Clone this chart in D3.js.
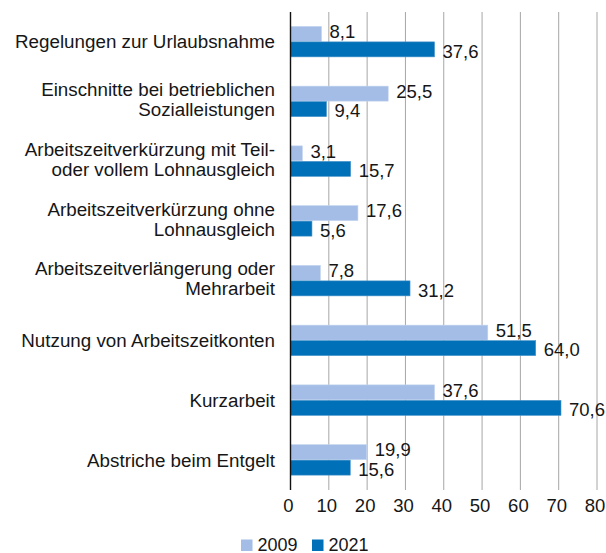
<!DOCTYPE html>
<html>
<head>
<meta charset="utf-8">
<script src="https://cdn.jsdelivr.net/npm/d3@7"></script>
<style>
  html, body { margin: 0; padding: 0; background: #ffffff; }
  svg { display: block; font-family: "Liberation Sans", Arial, Helvetica, sans-serif; }
</style>
</head>
<body>
<svg id="chart" width="606" height="553"></svg>
<script>
const categories = [
  "Regelungen zur Urlaubsnahme",
  "Einschnitte bei betrieblichen\nSozialleistungen",
  "Arbeitszeitverkürzung mit Teil-\noder vollem Lohnausgleich",
  "Arbeitszeitverkürzung ohne\nLohnausgleich",
  "Arbeitszeitverlängerung oder\nMehrarbeit",
  "Nutzung von Arbeitszeitkonten",
  "Kurzarbeit",
  "Abstriche beim Entgelt"
];
const series = ["2009", "2021"];
const values2009 = [8.1, 25.5, 3.1, 17.6, 7.8, 51.5, 37.6, 19.9];
const values2021 = [37.6, 9.4, 15.7, 5.6, 31.2, 64.0, 70.6, 15.6];
const tickValues = [0, 10, 20, 30, 40, 50, 60, 70, 80];

const colors = { "2009": "#a3bde6", "2021": "#0070b8" };
const fmt = v => d3.format(".1f")(v).replace(".", ",");

const svg = d3.select("#chart");
const plotTop = 12, plotBottom = 490;
const x = d3.scaleLinear().domain([0, 80]).range([290.5, 597]);
const y = d3.scaleBand().domain(categories).range([plotTop, plotBottom]).padding(0);
const barH = 15.5;
const textColor = "#161616";

// gridlines
svg.append("g").selectAll("line").data(tickValues.filter(t => t > 0)).join("line")
  .attr("x1", d => x(d)).attr("x2", d => x(d))
  .attr("y1", plotTop).attr("y2", plotBottom)
  .attr("stroke", "#a6a6a6").attr("stroke-width", 1);

// bars
const rows = categories.map((c, i) => ({ cat: c, v: [values2009[i], values2021[i]] }));
const g = svg.append("g");
rows.forEach(r => {
  const cy = y(r.cat) + y.bandwidth() / 2 - 0.5;
  series.forEach((s, j) => {
    const y0 = cy - barH + j * barH;
    g.append("rect")
      .attr("x", x(0)).attr("y", y0 + 0.5)
      .attr("width", x(r.v[j]) - x(0)).attr("height", barH - 0.5)
      .attr("fill", colors[s])
      .attr("stroke", j === 0 ? "#c4d5ef" : "#4a95cc").attr("stroke-width", 0.6);
    g.append("text")
      .attr("x", x(r.v[j]) + 8)
      .attr("y", y0 + barH / 2 + (j === 0 ? 4.5 : 8.5))
      .attr("font-size", 18.5).attr("fill", textColor)
      .text(fmt(r.v[j]));
  });
});

// zero axis line
svg.append("line")
  .attr("x1", x(0)).attr("x2", x(0)).attr("y1", plotTop).attr("y2", plotBottom)
  .attr("stroke", "#111").attr("stroke-width", 1.4);

// category labels
const catG = svg.append("g");
categories.forEach(c => {
  const lines = c.split("\n");
  const cy = y(c) + y.bandwidth() / 2;
  const t = catG.append("text")
    .attr("text-anchor", "end").attr("font-size", 18.8).attr("fill", textColor);
  lines.forEach((ln, k) => {
    const base = lines.length === 1 ? cy + 6.5 : cy - 5.6 + k * 20;
    t.append("tspan").attr("x", 275).attr("y", base).text(ln);
  });
});

// x axis tick labels
const axis = d3.axisBottom(x).tickValues(tickValues).tickSize(0).tickPadding(9).tickFormat(d3.format("d"));
const ax = svg.append("g").attr("transform", `translate(0,${plotBottom})`).call(axis);
ax.select(".domain").remove();
ax.selectAll("text").attr("font-size", 18.5).attr("fill", textColor).attr("dx", -2.5)
  .attr("font-family", "Liberation Sans, Arial, sans-serif");

// legend
const legX = [241, 312];
series.forEach((s, i) => {
  svg.append("rect").attr("x", legX[i]).attr("y", 539.5).attr("width", 11.5).attr("height", 11.5)
    .attr("fill", colors[s]);
  svg.append("text").attr("x", legX[i] + 16.5).attr("y", 550.5)
    .attr("font-size", 18).attr("fill", textColor).text(s);
});
</script>
</body>
</html>
